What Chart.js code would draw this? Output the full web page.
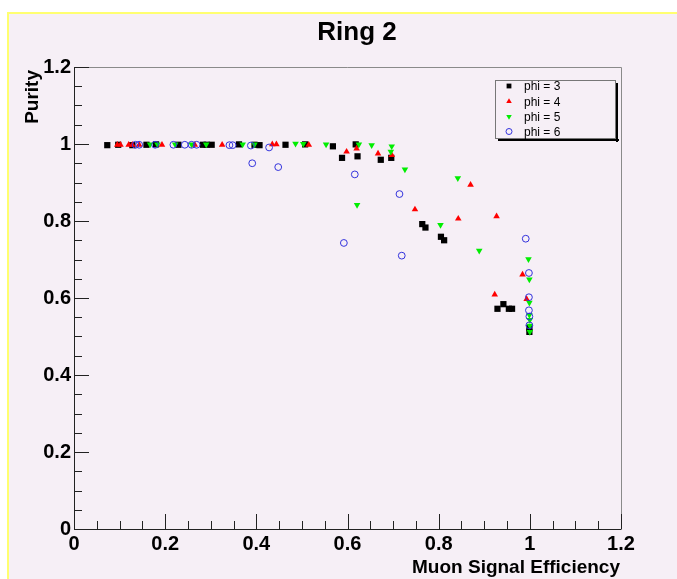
<!DOCTYPE html>
<html><head><meta charset="utf-8">
<script src="https://cdn.jsdelivr.net/npm/chart.js@4"></script>
<style>
html,body{margin:0;padding:0;background:#fff;}
canvas{display:block;}
</style></head><body>
<canvas id="c" width="677" height="579"></canvas>
<script>
const chartTitle = 'Ring 2';
const xTitle = 'Muon Signal Efficiency';
const yTitle = 'Purity';
const seriesLabels = ['phi = 3', 'phi = 4', 'phi = 5', 'phi = 6'];
const xTickValues = [0, 0.2, 0.4, 0.6, 0.8, 1.0, 1.2];
const yTickValues = [0, 0.2, 0.4, 0.6, 0.8, 1.0, 1.2];

const phi3 = [[0.073,0.997],[0.097,0.998],[0.128,0.997],[0.159,0.998],[0.180,0.999],[0.229,0.998],[0.283,0.998],[0.291,0.998],[0.302,0.998],[0.362,0.999],[0.396,0.998],[0.407,0.997],[0.464,0.998],[0.507,0.999],[0.568,0.994],[0.588,0.964],[0.618,0.999],[0.622,0.968],[0.673,0.959],[0.696,0.964],[0.764,0.792],[0.771,0.783],[0.805,0.759],[0.812,0.750],[0.929,0.572],[0.942,0.584],[0.954,0.572],[0.961,0.572],[0.999,0.522],[0.999,0.512]];
const phi4 = [[0.095,0.998],[0.102,0.998],[0.120,0.998],[0.128,0.998],[0.143,0.998],[0.193,0.998],[0.265,0.998],[0.325,0.998],[0.435,0.999],[0.444,0.999],[0.515,0.998],[0.598,0.980],[0.620,0.988],[0.667,0.975],[0.697,0.971],[0.748,0.830],[0.843,0.806],[0.870,0.894],[0.927,0.812],[0.923,0.609],[0.984,0.661],[0.993,0.597]];
const phi5 = [[0.167,0.999],[0.183,0.999],[0.222,0.999],[0.258,0.999],[0.290,0.999],[0.370,0.999],[0.396,0.999],[0.486,1.001],[0.503,1.000],[0.553,0.999],[0.625,0.999],[0.621,0.842],[0.653,0.997],[0.695,0.980],[0.697,0.994],[0.726,0.934],[0.804,0.790],[0.842,0.911],[0.889,0.723],[0.997,0.701],[0.999,0.648],[0.999,0.588],[0.999,0.556],[1.000,0.543],[1.000,0.528],[1.000,0.512]];
const phi6 = [[0.135,0.998],[0.143,0.998],[0.178,0.998],[0.218,0.998],[0.243,0.998],[0.258,0.998],[0.269,0.998],[0.341,0.997],[0.348,0.997],[0.388,0.996],[0.428,0.991],[0.391,0.950],[0.448,0.940],[0.592,0.743],[0.616,0.921],[0.714,0.870],[0.719,0.710],[0.991,0.754],[0.998,0.665],[0.998,0.602],[0.998,0.568],[0.999,0.552],[0.999,0.529]];

const FONT = '"Liberation Sans", Arial, Helvetica, sans-serif';
const BG = '#f6eff6';
const toPts = a => a.map(p => ({x: p[0], y: p[1]}));

const styles = [
  {pointStyle:'rect', radius:4.4, legendRadius:3.4, rotation:0, bg:'#000000', border:'#000000', bw:0},
  {pointStyle:'triangle', radius:3.8, legendRadius:3.2, rotation:0, bg:'#ff0000', border:'#ff0000', bw:0},
  {pointStyle:'triangle', radius:3.8, legendRadius:3.2, rotation:180, bg:'#00ee00', border:'#00ee00', bw:0},
  {pointStyle:'circle', radius:3.4, legendRadius:3.0, rotation:0, bg:'rgba(0,0,0,0)', border:'#3333dd', bw:1}
];
const allSeries = [phi3, phi4, phi5, phi6];

const datasets = allSeries.map((s, i) => ({
  label: seriesLabels[i],
  data: toPts(s),
  pointStyle: styles[i].pointStyle,
  pointRadius: styles[i].radius,
  pointHoverRadius: styles[i].radius,
  pointRotation: styles[i].rotation,
  backgroundColor: styles[i].bg,
  borderColor: styles[i].border,
  pointBorderWidth: styles[i].bw,
  borderWidth: styles[i].bw,
  showLine: false,
  order: 4 - i
}));

const decor = {
  id: 'decor',
  beforeDraw(chart) {
    const ctx = chart.ctx;
    ctx.save();
    ctx.fillStyle = '#ffffff';
    ctx.fillRect(0, 0, 677, 579);
    ctx.fillStyle = BG;
    ctx.fillRect(7, 12, 670, 567);
    ctx.strokeStyle = '#ffff70';
    ctx.lineWidth = 2;
    ctx.beginPath();
    ctx.moveTo(8, 579); ctx.lineTo(8, 13); ctx.lineTo(677, 13);
    ctx.stroke();
    ctx.restore();
  },
  afterDraw(chart) {
    const ctx = chart.ctx;
    const a = chart.chartArea;
    const xs = chart.scales.x, ys = chart.scales.y;
    ctx.save();
    // frame
    ctx.lineWidth = 1;
    ctx.strokeStyle = '#8a8a8a';
    ctx.beginPath();
    ctx.moveTo(a.left, a.top + 0.5); ctx.lineTo(a.right + 0.5, a.top + 0.5); ctx.lineTo(a.right + 0.5, a.bottom);
    ctx.stroke();
    ctx.strokeStyle = '#222222';
    ctx.beginPath();
    ctx.moveTo(a.left + 0.5, a.top); ctx.lineTo(a.left + 0.5, a.bottom + 0.5); ctx.lineTo(a.right + 0.5, a.bottom + 0.5);
    ctx.stroke();
    // ticks
    ctx.beginPath();
    for (let k = 0; k <= 24; k++) {
      const v = k * 0.05;
      const len = (k % 4 === 0) ? 15 : 8;
      const px = Math.round(xs.getPixelForValue(v)) + 0.5;
      ctx.moveTo(px, a.bottom); ctx.lineTo(px, a.bottom - len);
      const py = Math.round(ys.getPixelForValue(v)) + 0.5;
      ctx.moveTo(a.left, py); ctx.lineTo(a.left + len, py);
    }
    ctx.stroke();
    // titles
    ctx.fillStyle = '#000';
    ctx.font = 'bold 26px ' + FONT;
    ctx.textAlign = 'center'; ctx.textBaseline = 'middle';
    ctx.fillText(chartTitle, 357, 33);
    ctx.font = 'bold 19px ' + FONT;
    ctx.textAlign = 'right'; ctx.textBaseline = 'alphabetic';
    ctx.fillText(xTitle, 620, 573);
    ctx.save();
    ctx.translate(38, 70);
    ctx.rotate(-Math.PI / 2);
    ctx.textAlign = 'right';
    ctx.fillText(yTitle, 0, 0);
    ctx.restore();
    // legend
    const L = 495, T = 80, R = 616, B = 139;
    ctx.fillStyle = '#000';
    ctx.fillRect(R, T + 3, 2, B - T);
    ctx.fillRect(L + 3, B, R - L, 2);
    ctx.fillStyle = BG;
    ctx.fillRect(L, T, R - L, B - T);
    ctx.strokeStyle = '#777';
    ctx.lineWidth = 1;
    ctx.strokeRect(L + 0.5, T + 0.5, R - L - 1, B - T - 1);
    const rows = [86, 101.5, 116.5, 131.5];
    ctx.font = '12px ' + FONT;
    ctx.textAlign = 'left'; ctx.textBaseline = 'middle';
    for (let i = 0; i < 4; i++) {
      const st = styles[i];
      ctx.fillStyle = st.bg; ctx.strokeStyle = st.border; ctx.lineWidth = st.bw || 1;
      Chart.helpers.drawPoint(ctx, {pointStyle: st.pointStyle, radius: st.legendRadius, rotation: st.rotation, borderWidth: st.bw}, 509, rows[i]);
      ctx.fillStyle = '#000';
      ctx.fillText(seriesLabels[i], 524, rows[i] + 1);
    }
    ctx.restore();
  }
};

const fmt = v => (Math.round(v * 10) / 10).toString();

new Chart(document.getElementById('c'), {
  type: 'scatter',
  data: { datasets },
  options: {
    responsive: false,
    animation: false,
    devicePixelRatio: 1,
    layout: { padding: { left: 0, top: 67, right: 56, bottom: 0 } },
    plugins: { legend: { display: false }, tooltip: { enabled: false }, title: { display: false } },
    scales: {
      x: {
        type: 'linear', min: 0, max: 1.2,
        afterBuildTicks: s => { s.ticks = xTickValues.map(v => ({value: v})); },
        afterFit: s => { s.height = 50; },
        ticks: { font: { family: FONT, size: 20, weight: 'bold' }, color: '#000', padding: 3, maxRotation: 0, autoSkip: false, callback: fmt },
        grid: { display: false, drawTicks: false },
        border: { display: false }
      },
      y: {
        type: 'linear', min: 0, max: 1.2,
        afterBuildTicks: s => { s.ticks = yTickValues.map(v => ({value: v})); },
        afterFit: s => { s.width = 74; },
        ticks: { font: { family: FONT, size: 20, weight: 'bold' }, color: '#000', padding: 3, autoSkip: false, callback: fmt },
        grid: { display: false, drawTicks: false },
        border: { display: false }
      }
    }
  },
  plugins: [decor]
});
</script>
</body></html>
